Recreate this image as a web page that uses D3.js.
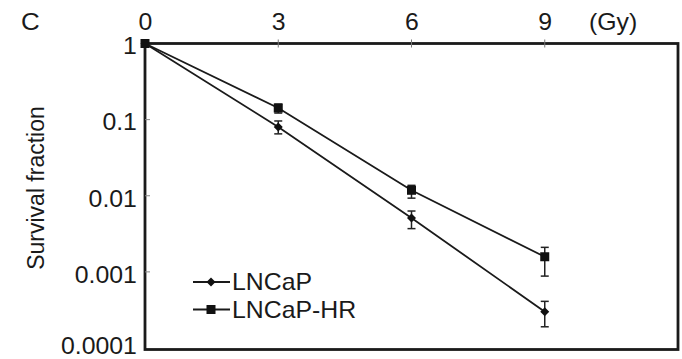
<!DOCTYPE html>
<html><head><meta charset="utf-8">
<script src="https://cdn.jsdelivr.net/npm/d3@7/dist/d3.min.js"></script>
<style>body{margin:0;background:#fff}svg{display:block}text{font-family:"Liberation Sans",Arial,Helvetica,sans-serif;fill:#1a1a1a}</style>
</head><body><svg id="c" width="682" height="359"></svg>
<script>
const doses = [0, 3, 6, 9];
const xTicks = [0, 3, 6, 9];
const yTicks = [1, 0.1, 0.01, 0.001, 0.0001];
const yTickLabels = ["1", "0.1", "0.01", "0.001", "0.0001"];
const seriesNames = ["LNCaP", "LNCaP-HR"];
const lncap = [1, 0.08, 0.0051, 0.0003];
const lncapLow = [1, 0.065, 0.0037, 0.00019];
const lncapHigh = [1, 0.096, 0.0063, 0.00041];
const lncapHR = [1, 0.142, 0.0118, 0.00158];
const lncapHRLow = [1, 0.122, 0.0093, 0.00088];
const lncapHRHigh = [1, 0.16, 0.0137, 0.0021];

const SX = 1.08; // horizontal stretch of the reference lettering
const svg = d3.select("#c");
const x = d3.scaleLinear().domain([0, 12]).range([145, 678]);
const y = d3.scaleLog().domain([0.0001, 1]).range([348, 43.5]);

function label(px, py, txt, size, anchor) {
  svg.append("text").attr("transform", `translate(${px},${py}) scale(${SX},1)`)
    .attr("text-anchor", anchor || "start").attr("font-size", size).text(txt);
}

// frame
svg.append("rect").attr("x", x(0)).attr("y", y(1)).attr("width", x(12) - x(0)).attr("height", y(0.0001) - y(1) + 1.5)
  .attr("fill", "#fff").attr("stroke", "#1a1a1a").attr("stroke-width", 2.8);

// top axis
const topAxis = svg.append("g").attr("transform", `translate(0,${y(1)})`)
  .call(d3.axisTop(x).tickValues(xTicks).tickSize(0).tickPadding(14).tickFormat(d3.format("d")));
topAxis.select(".domain").remove();
topAxis.selectAll("text").attr("font-size", 23).attr("fill", "#1a1a1a")
  .attr("font-family", "Liberation Sans, Arial, sans-serif").attr("transform", `scale(${SX},1)`);
svg.append("g").selectAll("line").data(xTicks.slice(1)).join("line")
  .attr("x1", d => x(d)).attr("x2", d => x(d)).attr("y1", y(1) - 4).attr("y2", y(1) + 4)
  .attr("stroke", "#777").attr("stroke-width", 1);
label(589, 29.5, "(Gy)", 23);
label(21, 29.5, "C", 24);

// left axis
const leftAxis = svg.append("g").attr("transform", `translate(${x(0)},0)`)
  .call(d3.axisLeft(y).tickValues(yTicks).tickSize(0).tickPadding(7.5).tickFormat((d, i) => yTickLabels[i]));
leftAxis.select(".domain").remove();
leftAxis.selectAll("text").attr("font-size", 23).attr("fill", "#1a1a1a")
  .attr("font-family", "Liberation Sans, Arial, sans-serif")
  .attr("dy", (d, i) => i === yTicks.length - 1 ? "0.26em" : "0.45em")
  .attr("transform", `scale(${SX},1)`);
svg.append("g").selectAll("line").data(yTicks.slice(1, 4)).join("line")
  .attr("x1", x(0)).attr("x2", x(0) + 5).attr("y1", d => y(d)).attr("y2", d => y(d))
  .attr("stroke", "#888").attr("stroke-width", 1);
svg.append("text").attr("transform", `translate(44,188) scale(${SX},1) rotate(-90)`).attr("text-anchor", "middle")
  .attr("font-size", 23).text("Survival fraction");

const line = d3.line().x((d, i) => x(doses[i])).y(d => y(d));
const series = [
  {name: seriesNames[0], v: lncap, lo: lncapLow, hi: lncapHigh, shape: "diamond"},
  {name: seriesNames[1], v: lncapHR, lo: lncapHRLow, hi: lncapHRHigh, shape: "square"}
];
function marker(g, shape, cx, cy) {
  if (shape === "square") g.append("rect").attr("x", cx - 4.5).attr("y", cy - 4.5).attr("width", 9).attr("height", 9).attr("fill", "#111");
  else g.append("path").attr("d", `M${cx},${cy-4.5}L${cx+4.5},${cy}L${cx},${cy+4.5}L${cx-4.5},${cy}Z`).attr("fill", "#111");
}
series.forEach(s => {
  svg.append("path").attr("d", line(s.v)).attr("fill", "none").attr("stroke", "#1a1a1a").attr("stroke-width", 1.8);
  const g = svg.append("g");
  s.v.forEach((v, i) => {
    if (i > 0) {
      const cx = x(doses[i]);
      g.append("line").attr("x1", cx).attr("x2", cx).attr("y1", y(s.hi[i])).attr("y2", y(s.lo[i])).attr("stroke", "#222").attr("stroke-width", 1.5);
      [s.hi[i], s.lo[i]].forEach(e => g.append("line").attr("x1", cx - 4).attr("x2", cx + 4).attr("y1", y(e)).attr("y2", y(e)).attr("stroke", "#222").attr("stroke-width", 1.5));
    }
    marker(g, s.shape, x(doses[i]), y(v));
  });
});

// legend
const leg = svg.append("g");
series.forEach((s, i) => {
  const ly = 282 + i * 27.5;
  leg.append("line").attr("x1", 193).attr("x2", 230).attr("y1", ly).attr("y2", ly).attr("stroke", "#1a1a1a").attr("stroke-width", 1.8);
  marker(leg, s.shape, 211, ly);
  leg.append("text").attr("transform", `translate(232,${ly + 8}) scale(${SX},1)`).attr("font-size", 23).text(s.name);
});
</script></body></html>
